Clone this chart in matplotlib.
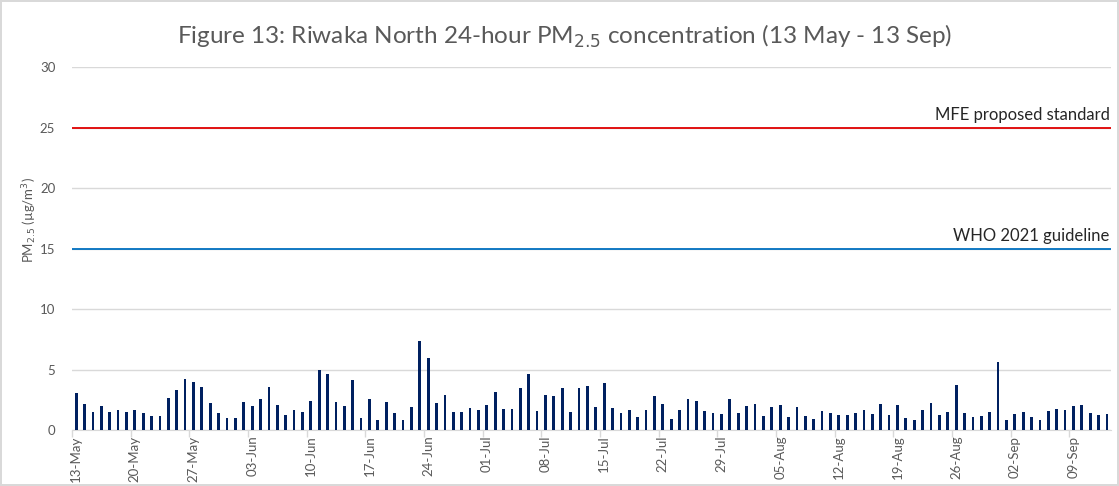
import numpy as np
import pandas as pd
import matplotlib
matplotlib.use("Agg")
import matplotlib.pyplot as plt
from matplotlib.ticker import FixedLocator, NullFormatter

plt.rcParams["font.family"] = ["Lato", "DejaVu Sans"]

# 24-hour PM2.5 (ug/m3), 13 May - 13 Sep
may = [3.08, 2.17, 1.47, 2.0, 1.47, 1.69, 1.47, 1.69, 1.39, 1.17, 1.17, 2.67,
       3.33, 4.22, 4.0, 3.56, 2.25, 1.39, 1.03]
jun = [0.97, 2.31, 2.0, 2.58, 3.56, 2.11, 1.22, 1.69, 1.47, 2.42, 5.0, 4.64,
       2.36, 2.0, 4.17, 1.0, 2.58, 0.81, 2.31, 1.44, 0.81, 1.89, 7.33, 6.0,
       2.25, 2.92, 1.53, 1.47, 1.83, 1.67]
jul = [2.11, 3.17, 1.72, 1.78, 3.5, 4.64, 1.56, 2.94, 2.83, 3.44, 1.47, 3.5,
       3.61, 1.94, 3.86, 1.83, 1.39, 1.69, 1.11, 1.67, 2.78, 2.17, 0.94, 1.69,
       2.58, 2.44, 1.58, 1.39, 1.33, 2.58, 1.39]
aug = [2.0, 2.17, 1.17, 1.89, 2.06, 1.06, 1.94, 1.17, 0.89, 1.58, 1.39, 1.28,
       1.28, 1.39, 1.67, 1.33, 2.17, 1.22, 2.11, 1.0, 0.86, 1.69, 2.25, 1.28,
       1.53, 3.75, 1.39, 1.06, 1.17, 1.53, 5.61]
sep = [0.86, 1.33, 1.53, 1.06, 0.86, 1.58, 1.78, 1.69, 2.0, 2.11, 1.44, 1.22,
       1.33]
pm25 = may + jun + jul + aug + sep
dates = pd.date_range("2023-05-13", periods=len(pm25), freq="D")
labels = [d.strftime("%d-%b") for d in dates]

mfe_standard = 25
who_guideline = 15

GREY = "#595959"
GRID = "#D9D9D9"

fig = plt.figure(figsize=(11.19, 4.86), dpi=100)
fig.patch.set_edgecolor(GRID)
fig.patch.set_linewidth(1.5)
ax = fig.add_axes([0.0643, 0.115, 0.9287, 0.747])

x = np.arange(len(pm25))
ax.bar(x, pm25, width=0.33, color="#002060", zorder=3)

ax.axhline(mfe_standard, color="#E00000", lw=1.3, zorder=2)
ax.axhline(who_guideline, color="#0070C0", lw=1.3, zorder=2)
ax.text(len(pm25) - 0.7, mfe_standard + 0.4, "MFE proposed standard",
        ha="right", va="bottom", fontsize=12, color="#262626")
ax.text(len(pm25) - 0.7, who_guideline + 0.4, "WHO 2021 guideline",
        ha="right", va="bottom", fontsize=12, color="#262626")

ax.set_xlim(-0.5, len(pm25) - 0.5)
ax.set_ylim(0, 30)
ax.set_yticks(range(0, 31, 5))
ax.yaxis.grid(True, color=GRID, lw=1, zorder=0)
ax.tick_params(axis="y", length=0, pad=12, labelsize=9.5, labelcolor=GREY)

pos = list(range(0, len(pm25), 7))
ax.set_xticks(pos)
ax.set_xticklabels([labels[i] for i in pos], rotation=90, fontsize=9.5,
                   color=GREY)
ax.tick_params(axis="x", which="major", length=0, pad=4)
ax.xaxis.set_minor_locator(FixedLocator([p - 0.5 for p in pos]))
ax.xaxis.set_minor_formatter(NullFormatter())
ax.tick_params(axis="x", which="minor", length=5, color=GRID, width=1)

for s in ["top", "right", "left"]:
    ax.spines[s].set_visible(False)
ax.spines["bottom"].set_color(GRID)

ax.set_ylabel("PM$_{2.5}$ (µg/m$^3$)", fontsize=9.5, color=GREY)
ax.yaxis.set_label_coords(-0.032, 0.58)

fig.text(0.505, 0.925,
         "Figure 13: Riwaka North 24-hour PM$_{2.5}$ concentration (13 May - 13 Sep)",
         ha="center", va="center", fontsize=17.5, color=GREY)

fig.savefig("out.png", dpi=100, edgecolor=fig.get_edgecolor())
